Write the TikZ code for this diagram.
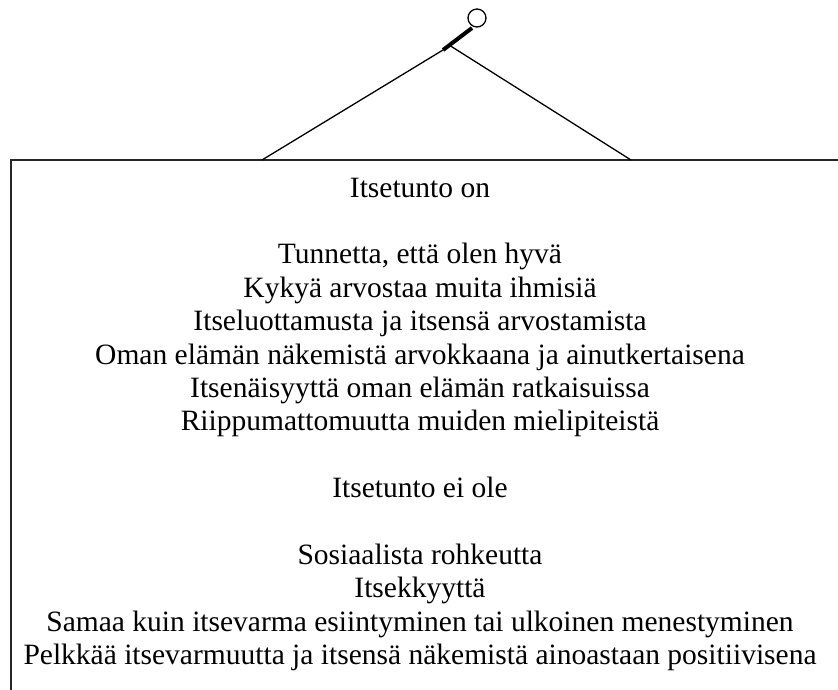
\documentclass[tikz,border=0pt]{standalone}
\usepackage{fontspec}
\setmainfont{Liberation Serif}
\begin{document}
\begin{tikzpicture}[x=1pt,y=-1pt,
  txt/.style={anchor=base,inner sep=0pt,font=\fontsize{29.5}{33}\selectfont},
  frame/.style={line width=1.6pt,black!85},
  cord/.style={line width=1.3pt},
  peg/.style={line width=4pt},
  ring/.style={line width=1.3pt,fill=white}]
\useasboundingbox (0,0) rectangle (838,690);
% frame
\coordinate (tl) at (11,160);
\coordinate (tr) at (838,160);
\coordinate (bl) at (11,690);
\draw[frame] (bl) -- (tl) -- (tr);
% hanger
\coordinate (sl) at (262,160);
\coordinate (sr) at (631,160);
\coordinate (pl) at (443,50);
\coordinate (pr) at (449,45);
\coordinate (pt) at (472,28);
\coordinate (rc) at (477,18);
\draw[cord] (sl) -- (pl);
\draw[cord] (pr) -- (sr);
\draw[peg] (pl) -- (pt);
\draw[ring] (rc) circle (9);
% text
\def\cx{420}
\node[txt] (t0) at (\cx,197) {Itsetunto on};
\node[txt] (t2) at (\cx,197+2*33.4) {Tunnetta, että olen hyvä};
\node[txt] (t3) at (\cx,197+3*33.4) {Kykyä arvostaa muita ihmisiä};
\node[txt] (t4) at (\cx,197+4*33.4) {Itseluottamusta ja itsensä arvostamista};
\node[txt] (t5) at (\cx,197+5*33.4) {Oman elämän näkemistä arvokkaana ja ainutkertaisena};
\node[txt] (t6) at (\cx,197+6*33.4) {Itsenäisyyttä oman elämän ratkaisuissa};
\node[txt] (t7) at (\cx,197+7*33.4) {Riippumattomuutta muiden mielipiteistä};
\node[txt] (t9) at (\cx,197+9*33.4) {Itsetunto ei ole};
\node[txt] (t11) at (\cx,197+11*33.4) {Sosiaalista rohkeutta};
\node[txt] (t12) at (\cx,197+12*33.4) {Itsekkyyttä};
\node[txt] (t13) at (\cx,197+13*33.4) {Samaa kuin itsevarma esiintyminen tai ulkoinen menestyminen};
\node[txt] (t14) at (\cx,197+14*33.4) {Pelkkää itsevarmuutta ja itsensä näkemistä ainoastaan positiivisena};
\end{tikzpicture}
\end{document}
